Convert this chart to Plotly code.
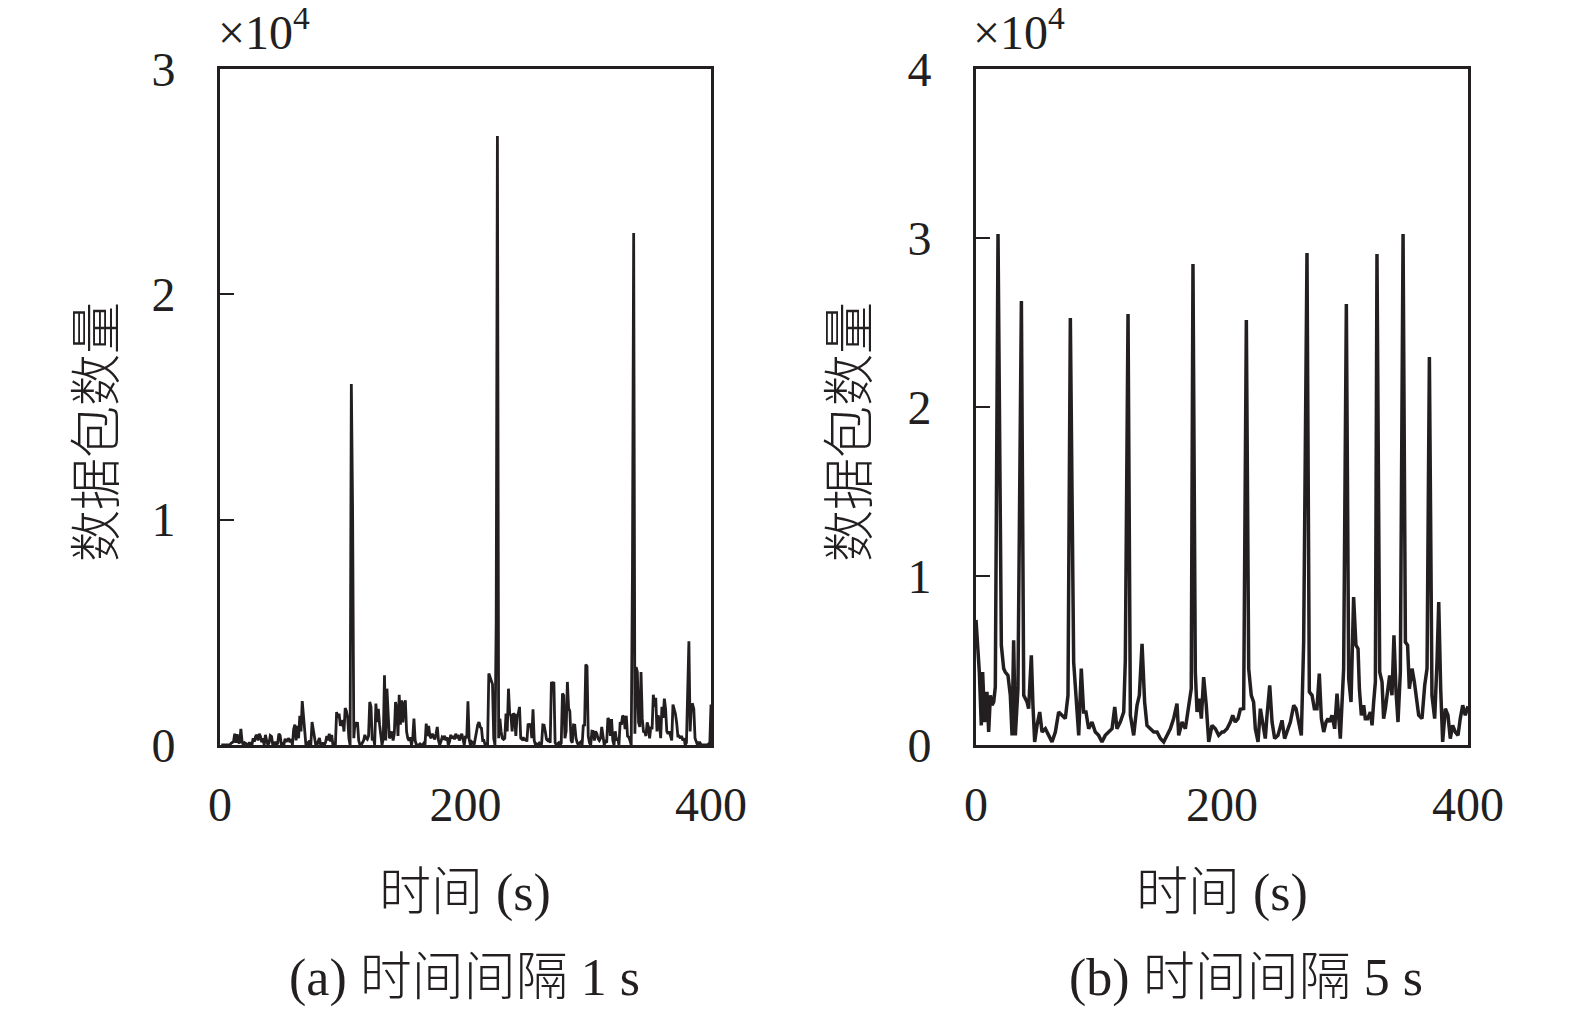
import plotly.graph_objects as go

# ---- data (a): 1 s interval, t = 1..400 ----
time_a = list(range(1, 401))
packets_a = [
    0, 0, 0, 0, 0, 0, 0, 0, 80, 120,
    150, 500, 100, 480, 120, 80, 720, 150, 0, 100,
    60, 0, 0, 120, 0, 0, 300, 150, 380, 450,
    200, 500, 380, 120, 300, 0, 450, 200, 0, 100,
    420, 380, 0, 0, 150, 0, 80, 500, 420, 0,
    100, 0, 280, 150, 250, 300, 120, 260, 0, 700,
    900, 200, 850, 300, 1300, 600, 1950, 1200, 300, 0,
    80, 0, 200, 0, 1020, 725, 300, 0, 0, 150,
    310, 0, 0, 100, 0, 120, 400, 200, 500, 150,
    450, 0, 100, 0, 1460, 1200, 1390, 900, 890, 1100,
    600, 1640, 1500, 1200, 300, 0, 16020, 10600, 300, 1020,
    800, 1020, 200, 0, 0, 100, 200, 450, 300, 250,
    400, 1910, 1700, 200, 355, 0, 1840, 1020, 1600, 900,
    400, 0, 300, 3090, 200, 2500, 1400, 300, 400, 600,
    200, 500, 1910, 1600, 400, 2230, 900, 1980, 1000, 1800,
    1980, 600, 300, 200, 350, 0, 300, 1170, 200, 0,
    0, 0, 50, 0, 0, 80, 0, 950, 400, 850,
    400, 300, 500, 400, 250, 500, 800, 200, 0, 150,
    350, 300, 400, 200, 350, 0, 150, 450, 300, 400,
    250, 500, 300, 450, 200, 350, 500, 250, 0, 400,
    300, 1940, 250, 0, 150, 100, 0, 300, 700, 900,
    1020, 800, 750, 200, 200, 0, 50, 0, 3170, 3000,
    2800, 2700, 300, 0, 5410, 27030, 300, 1170, 600, 300,
    250, 300, 1390, 600, 2500, 1400, 1300, 600, 1400, 1350,
    400, 1300, 1400, 1690, 300, 250, 350, 200, 300, 150,
    950, 800, 950, 300, 1580, 200, 0, 50, 0, 80,
    0, 50, 890, 880, 600, 250, 200, 250, 100, 2800,
    2700, 2800, 100, 0, 50, 100, 0, 80, 2280, 2200,
    300, 600, 2800, 1640, 1500, 200, 100, 890, 880, 300,
    100, 0, 100, 150, 0, 900, 850, 3570, 3500, 400,
    100, 0, 610, 600, 200, 610, 500, 280, 200, 300,
    800, 300, 0, 150, 100, 1200, 1100, 400, 1150, 200,
    0, 610, 200, 300, 0, 1020, 900, 1300, 1250, 700,
    1300, 400, 350, 200, 0, 7680, 22720, 500, 3460, 3240,
    1000, 800, 3240, 1170, 600, 580, 400, 1000, 800, 300,
    800, 700, 2230, 1690, 2100, 600, 1320, 1000, 300, 1690,
    1200, 2060, 1600, 600, 500, 600, 400, 200, 1790, 1600,
    1390, 1000, 400, 400, 300, 400, 200, 300, 0, 100,
    3090, 4600, 600, 1790, 1800, 1600, 300, 100, 0, 100,
    100, 0, 0, 0, 0, 0, 0, 50, 0, 1800,
]

# ---- data (b): 5 s interval ----
time_b = [
    0, 2.7, 4.3, 5.4, 7.0, 8.9, 10.3, 11.7, 13.0, 14.4, 15.7, 17.9, 20.6, 22.5,
    23.8, 26.0, 27.9, 29.3, 30.6, 32.0, 34.1, 36.9, 38.8, 41.5, 42.8, 45.0, 46.3,
    47.7, 49.6, 51.8, 53.7, 56.4, 59.1, 61.8, 64.5, 67.2, 69.9, 72.6, 74.8, 76.7,
    79.4, 81.3, 83.5, 85.6, 87.5, 89.4, 91.6, 94.3, 97.0, 99.7, 102.4, 105.1,
    107.9, 110.6, 112.8, 114.6, 117.3, 120.1, 121.4, 123.6, 125.5, 128.2, 130.9,
    132.8, 135.0, 137.1, 139.0, 141.7, 144.5, 147.2, 149.9, 152.6, 155.3, 158.0,
    160.7, 163.4, 164.8, 167.5, 170.2, 172.9, 175.0, 176.4, 178.3, 179.7, 181.6,
    183.2, 185.1, 187.2, 189.2, 191.9, 194.6, 197.3, 200.0, 201.4, 204.1, 206.8,
    208.7, 210.8, 213.0, 214.9, 217.6, 219.8, 221.7, 223.8, 225.7, 227.1, 229.3,
    231.2, 233.1, 235.2, 236.6, 238.8, 240.7, 242.8, 245.5, 248.8, 250.9, 253.7,
    255.6, 258.3, 260.2, 262.3, 264.5, 266.4, 269.1, 271.0, 273.2, 275.1, 277.2,
    279.1, 280.8, 282.7, 284.6, 286.2, 287.5, 289.4, 291.6, 293.5, 294.9, 296.2,
    298.9, 301.1, 303.0, 304.9, 307.0, 308.9, 310.6, 311.7, 313.3, 315.2, 316.5,
    318.4, 320.6, 322.0, 323.3, 324.7, 326.0, 328.2, 330.1, 331.4, 332.8, 335.0,
    336.3, 338.2, 339.8, 341.5, 343.1, 345.0, 347.2, 349.1, 350.9, 352.3, 354.5,
    356.4, 358.5, 359.9, 362.6, 364.8, 366.7, 368.6, 370.7, 372.9, 374.8, 376.2,
    377.8, 379.4, 381.6, 383.7, 385.6, 387.5, 389.7, 391.9, 393.7, 395.7, 397.8,
    400.0,
]
packets_b = [
    7400, 4320, 1160, 4320, 1360, 3140, 770, 2940, 2350, 2540, 3430, 30240, 5900, 4520,
    4320, 4120, 2940, 570, 6190, 570, 3330, 26270, 2940, 2540, 2150, 5310, 2350,
    180, 1160, 1950, 770, 960, 570, 180, 770, 1950, 1760, 1560, 2940, 25270,
    4910, 2540, 570, 4520, 1950, 1950, 960, 1360, 770, 570, 180, 570,
    770, 960, 2250, 960, 1360, 1950, 5010, 25500, 1760, 570, 2350,
    2940, 5990, 2540, 1160, 960, 770, 770, 380, 180, 570, 960,
    1560, 2450, 570, 1360, 960, 2350, 3330, 28460, 4320, 1950, 2740,
    1560, 4020, 2350, 180, 1160, 960, 570, 770, 770, 960, 1360,
    1760, 1360, 1560, 2110, 2150, 25150, 4520, 2940, 2540, 960, 180,
    2150, 1360, 380, 1760, 3530, 1360, 380, 570, 1460, 380, 960,
    1360, 2350, 2150, 1360, 570, 6090, 29110, 3140, 2940, 2150, 2150,
    4220, 1560, 770, 1360, 1560, 1360, 1760, 960, 3040, 1760, 380,
    4520, 26090, 3930, 2540, 8760, 5900, 5700, 3330, 1760, 2350, 1560,
    1560, 1950, 1160, 2540, 3730, 29050, 4320, 3730, 1560, 2150, 3330,
    4120, 2940, 6490, 3140, 1360, 4320, 30240, 6090, 5900, 3330, 4520,
    3730, 2740, 1760, 1560, 3530, 4520, 22960, 2940, 1560, 4910, 8460,
    3330, 180, 2150, 1760, 380, 1160, 770, 570, 1560, 2350, 1760,
    2300,
]

x_ticks = [0, 200, 400]
y_ticks_a = [0, 10000, 20000, 30000]
y_ticks_b = [0, 10000, 20000, 30000, 40000]
y_text_a = ["0", "1", "2", "3"]
y_text_b = ["0", "1", "2", "3", "4"]

ink = "#231f20"
font_family = "Liberation Serif, Times New Roman, Noto Sans CJK SC"

fig = go.Figure()
fig.add_trace(go.Scatter(x=time_a, y=packets_a, mode="lines",
                         line=dict(color=ink, width=2.8),
                         xaxis="x", yaxis="y", showlegend=False))
fig.add_trace(go.Scatter(x=time_b, y=packets_b, mode="lines",
                         line=dict(color=ink, width=3.5),
                         xaxis="x2", yaxis="y2", showlegend=False))

W, H = 1575, 1018
left_a, right_a = 212 / W, 703 / W
left_b, right_b = 968 / W, 1460 / W
bottom, top = 1 - 737 / H, 1 - 61 / H

axis_common = dict(showline=True, linecolor=ink, linewidth=3, mirror=True,
                   showgrid=False, zeroline=False, automargin=False,
                   tickfont=dict(size=48, color=ink, family=font_family))

fig.update_layout(
    template="none",
    width=W, height=H,
    margin=dict(l=0, r=0, t=0, b=0, pad=0),
    plot_bgcolor="white", paper_bgcolor="white",
    font=dict(family=font_family, color=ink),
    xaxis=dict(domain=[left_a, right_a], range=[0, 400], tickvals=x_ticks,
               ticks="", ticklabelstandoff=15, anchor="y", **axis_common),
    yaxis=dict(domain=[bottom, top], range=[0, 30000], tickvals=y_ticks_a,
               ticktext=y_text_a, ticks="inside", ticklen=14, tickwidth=2,
               tickcolor=ink, ticklabelstandoff=32, anchor="x", **axis_common),
    xaxis2=dict(domain=[left_b, right_b], range=[0, 400], tickvals=x_ticks,
                ticks="", ticklabelstandoff=15, anchor="y2", **axis_common),
    yaxis2=dict(domain=[bottom, top], range=[0, 40000], tickvals=y_ticks_b,
                ticktext=y_text_b, ticks="inside", ticklen=14, tickwidth=2,
                tickcolor=ink, ticklabelstandoff=32, anchor="x2", **axis_common),
)

cjk = dict(size=52, weight=300)
annots = [
    # exponent labels
    dict(x=208 / W, y=1 - 53 / H, text="×10<sup>4</sup>", xanchor="left", yanchor="bottom",
         font=dict(size=48)),
    dict(x=963 / W, y=1 - 53 / H, text="×10<sup>4</sup>", xanchor="left", yanchor="bottom",
         font=dict(size=48)),
    # x titles
    dict(x=(left_a + right_a) / 2, y=1 - 885 / H, text="时间 (s)", xanchor="center", yanchor="middle",
         font=dict(cjk)),
    dict(x=(left_b + right_b) / 2, y=1 - 885 / H, text="时间 (s)", xanchor="center", yanchor="middle",
         font=dict(cjk)),
    # y titles
    dict(x=89 / W, y=1 - 424 / H, text="数据包数量", textangle=-90, xanchor="center", yanchor="middle",
         font=dict(cjk)),
    dict(x=842 / W, y=1 - 424 / H, text="数据包数量", textangle=-90, xanchor="center", yanchor="middle",
         font=dict(cjk)),
    # captions
    dict(x=456 / W, y=1 - 970 / H, text="(a) 时间间隔 1 s", xanchor="center", yanchor="middle",
         font=dict(cjk)),
    dict(x=1238 / W, y=1 - 970 / H, text="(b) 时间间隔 5 s", xanchor="center", yanchor="middle",
         font=dict(cjk)),
]
for a in annots:
    a.update(xref="paper", yref="paper", showarrow=False)
    a["font"].update(color=ink, family=font_family)
fig.update_layout(annotations=annots)

fig.write_html("out.html")
